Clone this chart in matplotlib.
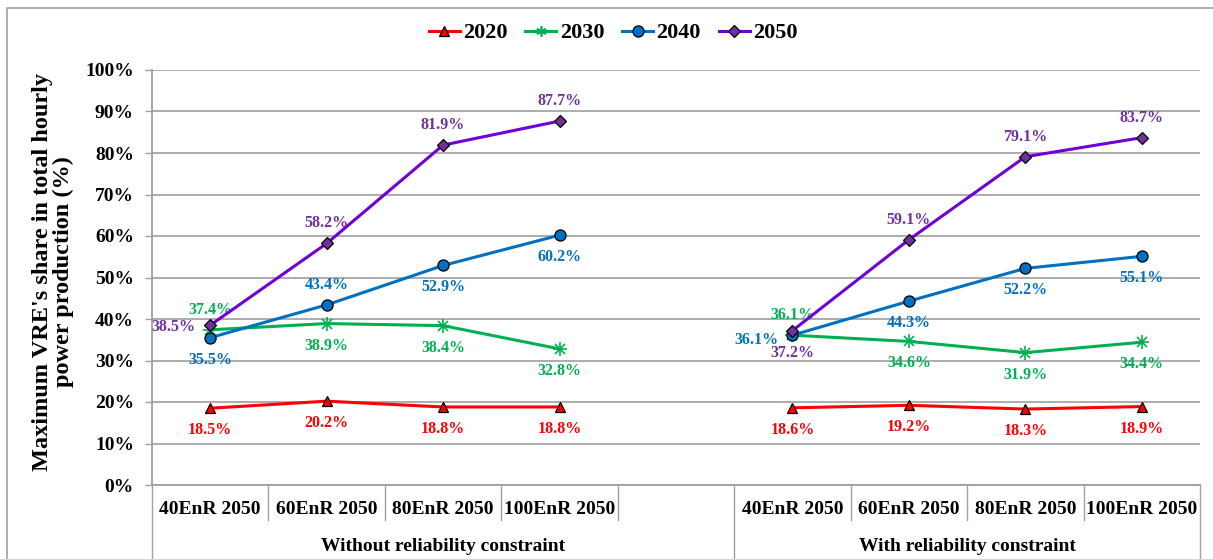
import numpy as np
import matplotlib.pyplot as plt
import matplotlib.transforms as mtransforms
from matplotlib.lines import Line2D
from matplotlib.patches import Rectangle

plt.rcParams['font.family'] = ['Liberation Serif', 'DejaVu Serif']
plt.rcParams['font.weight'] = 'bold'

# Daten
categories = ["40EnR 2050", "60EnR 2050", "80EnR 2050", "100EnR 2050"]
groups = ["Without reliability constraint", "With reliability constraint"]
years = ["2020", "2030", "2040", "2050"]

without_2020 = [18.5, 20.2, 18.8, 18.8]
without_2030 = [37.4, 38.9, 38.4, 32.8]
without_2040 = [35.5, 43.4, 52.9, 60.2]
without_2050 = [38.5, 58.2, 81.9, 87.7]

with_2020 = [18.6, 19.2, 18.3, 18.9]
with_2030 = [36.1, 34.6, 31.9, 34.4]
with_2040 = [36.1, 44.3, 52.2, 55.1]
with_2050 = [37.2, 59.1, 79.1, 83.7]

# Stile
colors = {"2020": "#FF0000", "2030": "#00B050", "2040": "#0070C0", "2050": "#7000D8"}
label_colors = {"2020": "#FF0000", "2030": "#00B050", "2040": "#0070C0", "2050": "#7030A0"}
markers = {"2020": ("^", 7.5, "#FF0000"), "2030": ("x", 7.5, "#00B050"),
           "2040": ("o", 8, "#0070C0"), "2050": ("D", 6, "#7030A0")}

# Beschriftungs-Offsets in Pixel (dx, dy), nach oben positiv
B, A = (0, -22), (0, 20)
offsets_without = {"2020": [B, B, B, B], "2030": [A, B, B, B],
                   "2040": [B, A, B, B], "2050": [(-37, -2), A, A, A]}
offsets_with = {"2020": [B, B, B, B], "2030": [A, B, B, B],
                "2040": [(-36, -5), B, B, B], "2050": [B, A, A, A]}

fig = plt.figure(figsize=(12.13, 5.59), dpi=100)
ax = fig.add_axes([152 / 1213, 1 - 485 / 559, 1048 / 1213, 415 / 559])

# Rahmen um die Grafik
fig.patches.append(Rectangle((7 / 1213, -0.1), 1.2, 1.1 - 8 / 559, transform=fig.transFigure,
                             fill=False, edgecolor="#A0A0A0", linewidth=1.2))

x_without = np.arange(4)
x_with = np.arange(5, 9)
series = [
    (x_without, [without_2020, without_2030, without_2040, without_2050], offsets_without),
    (x_with, [with_2020, with_2030, with_2040, with_2050], offsets_with),
]

for xs, values, offs in series:
    for year, vals in zip(years, values):
        m, ms, mfc = markers[year]
        if m == "x":
            ax.plot(xs, vals, color=colors[year], lw=2.2, marker="x", ms=ms, mew=1.2, zorder=3)
            ax.plot(xs, vals, ls="none", marker="+", ms=ms * 1.3, mew=1.2, color=colors[year], zorder=3)
        else:
            ax.plot(xs, vals, color=colors[year], lw=2.2, marker=m, ms=ms, mfc=mfc,
                    mec="black", mew=0.9, zorder=3)
        for x, v, (dx, dy) in zip(xs, vals, offs[year]):
            ax.annotate(f"{v:.1f}%", (x, v), xytext=(dx * 0.72, dy * 0.72),
                        textcoords="offset points", ha="center", va="center",
                        color=label_colors[year], fontsize=11.5, fontweight="bold")

ax.set_xlim(-0.5, 8.5)
ax.set_ylim(0, 100)
ax.set_yticks(np.arange(0, 101, 10))
ax.set_yticklabels([f"{t}%" for t in range(0, 101, 10)])
ax.tick_params(axis="y", length=5, width=1, color="#A0A0A0", pad=8, labelsize=14)
ax.tick_params(axis="x", length=0, labelbottom=False)
ax.grid(axis="y", color="#A6A6A6", lw=1.3)
ax.set_axisbelow(True)
for s in ["top", "right"]:
    ax.spines[s].set_visible(False)
ax.spines["left"].set_color("#A0A0A0")
ax.spines["bottom"].set_color("#A0A0A0")
ax.spines["left"].set_linewidth(1.3)
ax.spines["bottom"].set_linewidth(1.3)

# Kategorie- und Gruppenbeschriftung
trans = mtransforms.blended_transform_factory(ax.transData, ax.transAxes)
for xs in (x_without, x_with):
    for x, c in zip(xs, categories):
        ax.text(x, -0.058, c, transform=trans, ha="center", va="center", fontsize=14, fontweight="bold")
ax.text(2, -0.148, groups[0], transform=trans, ha="center", va="center", fontsize=14, fontweight="bold")
ax.text(6.5, -0.148, groups[1], transform=trans, ha="center", va="center", fontsize=14, fontweight="bold")

short_div = [0.5, 1.5, 2.5, 3.5, 5.5, 6.5, 7.5]
long_div = [-0.5, 4.5, 8.5]
for x in short_div:
    ax.add_line(Line2D([x, x], [0, -0.084], transform=trans, color="#A0A0A0", lw=1, clip_on=False))
for x in long_div:
    ax.add_line(Line2D([x, x], [0, -0.2], transform=trans, color="#A0A0A0", lw=1, clip_on=False))

# Achsentitel
fig.text(53 / 1213, 1 - 272 / 559, "Maximum VRE's share in total hourly\npower production (%)",
         rotation=90, ha="center", va="center", multialignment="center",
         fontsize=17.5, fontweight="bold", linespacing=1.0)

# Legende
handles = []
for year in years:
    m, ms, mfc = markers[year]
    if m == "x":
        handles.append(Line2D([], [], color=colors[year], lw=2.2, marker=(6, 2, 0), ms=ms, mew=1.2))
    else:
        handles.append(Line2D([], [], color=colors[year], lw=2.2, marker=m, ms=ms, mfc=mfc,
                              mec="black", mew=0.9))
fig.legend(handles, years, loc="center", bbox_to_anchor=(613 / 1213, 1 - 33 / 559), ncol=4,
           frameon=False, prop={"size": 16, "weight": "bold"}, handlelength=1.4,
           handletextpad=0.15, columnspacing=0.8)

fig.savefig("out.png", dpi=100)
